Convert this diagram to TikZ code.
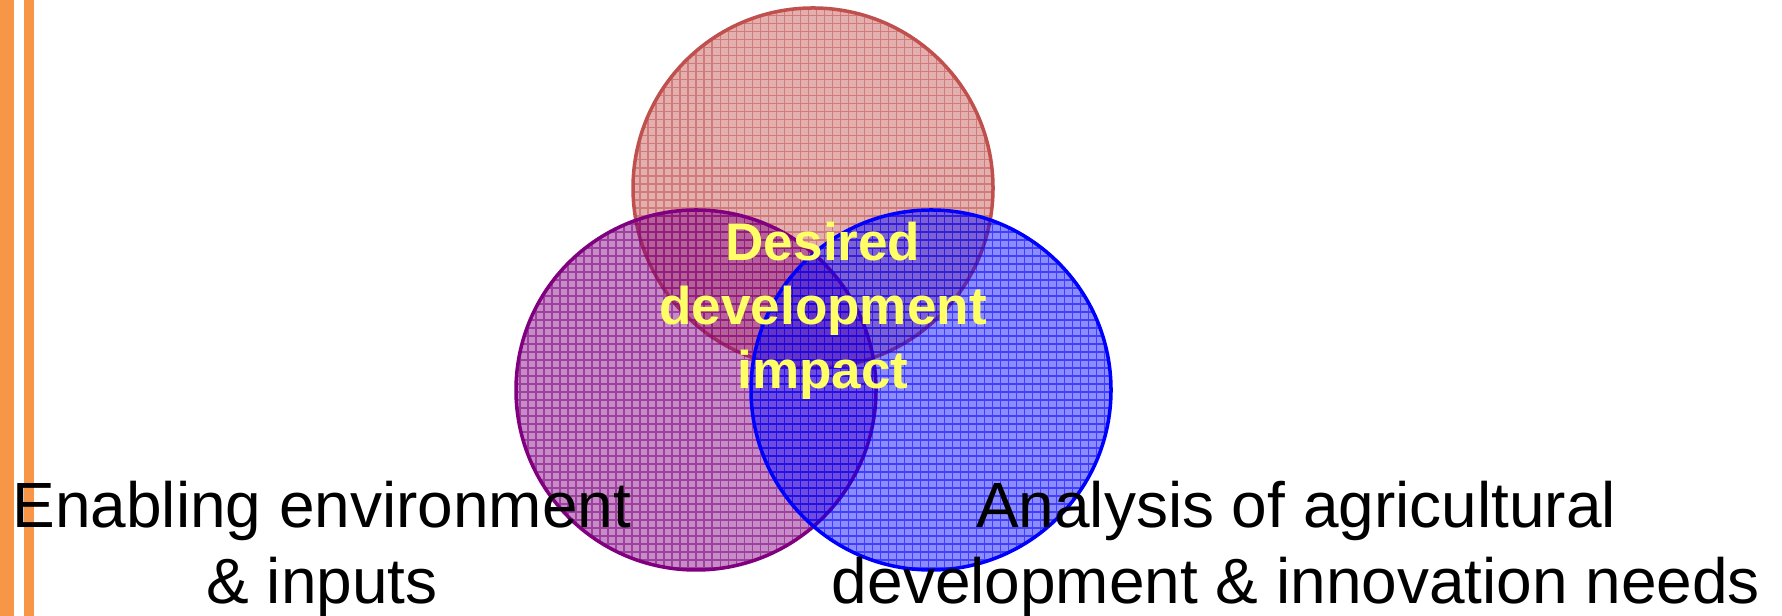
\documentclass[tikz,border=0pt]{standalone}
\usepackage{fontspec}
\setmainfont{Liberation Sans}
\usetikzlibrary{positioning}

\definecolor{barorange}{RGB}{247,150,70}
\definecolor{redring}{RGB}{192,80,77}
\definecolor{purplering}{RGB}{128,0,128}
\definecolor{bluering}{RGB}{0,0,255}
\definecolor{impactyellow}{RGB}{255,255,102}

% filled circle with a fine mesh inside: #1 centre name, #2 colour
\newcommand{\meshcircle}[2]{%
  \fill[#2, fill opacity=0.45] (#1) circle (1.8);
  \begin{scope}
    \clip (#1) circle (1.8);
    \draw[#2, line width=0.3pt, opacity=0.55, step=0.08] (#1) ++(-1.8,-1.8) grid ++(3.6,3.6);
  \end{scope}
  \draw[#2, line width=1pt] (#1) circle (1.8);
}

\begin{document}
\begin{tikzpicture}[
        impact/.style={text=impactyellow, align=center, font=\fontsize{15.1}{18.2}\selectfont\bfseries, inner sep=0pt},
        venntext/.style={text=black, align=center, font=\fontsize{18.2}{21.6}\selectfont, inner sep=0pt}
    ]
    \useasboundingbox (0,0) rectangle (17.82,6.16);

    % Orange bars on the left edge
    \fill[barorange] (0,0) rectangle (0.14,6.16);
    \fill[barorange] (0.24,0) rectangle (0.34,6.16);

    % Circle centres
    \coordinate (topc) at (8.13,4.28);
    \coordinate (leftc) at (6.96,2.26);
    \coordinate (rightc) at (9.31,2.26);

    % The three circles
    \meshcircle{topc}{redring}
    \meshcircle{leftc}{purplering}
    \meshcircle{rightc}{bluering}

    % Centre text
    \node[impact] (impact) at (8.23,3.05) {Desired\\development\\impact};

    % Bottom labels
    \node[venntext] (enabling) at (3.22,0.67) {Enabling environment\\\& inputs};
    \node[venntext] (analysis) at (12.96,0.67) {Analysis of agricultural\\development \& innovation needs};
\end{tikzpicture}
\end{document}
